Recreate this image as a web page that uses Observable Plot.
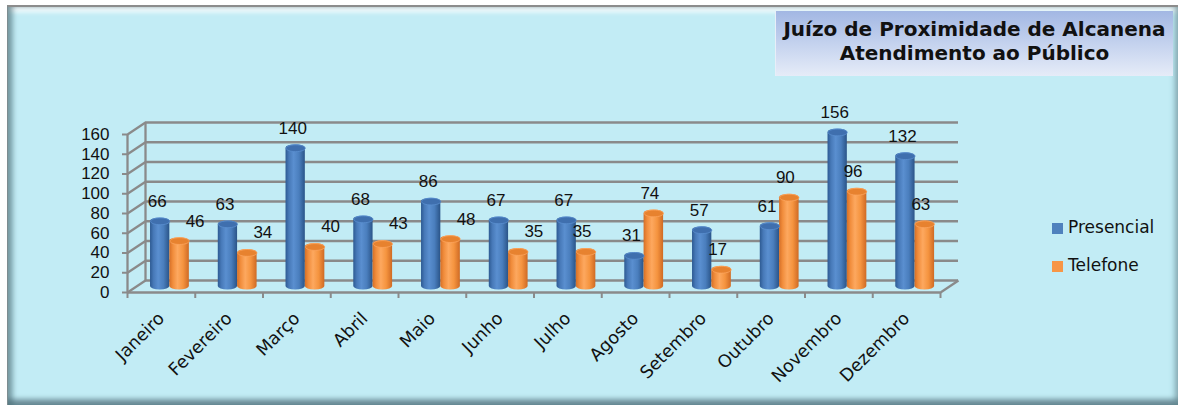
<!DOCTYPE html>
<html>
<head>
<meta charset="utf-8">
<script src="https://cdn.jsdelivr.net/npm/d3@7"></script>
<script src="https://cdn.jsdelivr.net/npm/@observablehq/plot@0.6"></script>
<style>
  html, body { margin: 0; padding: 0; background: #ffffff; }
  #wrap { position: relative; width: 1178px; height: 406px; overflow: hidden; }
  #frame {
    position: absolute; left: 7px; top: 5px; width: 1171px; height: 400px;
    box-sizing: border-box; background: #c2ecf5;
    border-top: 2px solid #8c8c8c; border-left: 1px solid #7d8c90;
    box-shadow: inset 6px 0 5px -1px rgba(70,105,115,.55),
                inset -5px 0 5px -1px rgba(90,130,140,.45),
                inset 0 -7px 5px -1px rgba(70,100,110,.65),
                inset 0 6px 5px -1px rgba(255,255,255,.9);
  }
  #chart { position: absolute; left: 0; top: 0; }
  #title {
    position: absolute; left: 775px; top: 11px; width: 398px; height: 65px;
    box-sizing: border-box; padding-top: 6px;
    background: linear-gradient(to bottom, #a2b7e3 0%, #c4d2ee 50%, #e6ecf8 100%);
    border-left: 1px solid #e8eef8;
    font-family: "DejaVu Sans", sans-serif; font-weight: bold; font-size: 20px;
    line-height: 24px; text-align: center; color: #111;
  }
  .leg { position: absolute; font-family: "DejaVu Sans", sans-serif; font-size: 17px; color: #111; line-height: 17px; }
  .sw { position: absolute; width: 11px; height: 11px; }
</style>
</head>
<body>
<div id="wrap">
  <div id="frame"></div>
  <div id="chart"></div>
  <div id="title"></div>
  <div id="legend"></div>
</div>
<script>
// ---- data ----
const months = ["Janeiro", "Fevereiro", "Março", "Abril", "Maio", "Junho", "Julho", "Agosto", "Setembro", "Outubro", "Novembro", "Dezembro"];
const presencial = [66, 63, 140, 68, 86, 67, 67, 31, 57, 61, 156, 132];
const telefone = [46, 34, 40, 43, 48, 35, 35, 74, 17, 90, 96, 63];
const seriesNames = ["Presencial", "Telefone"];
const seriesColors = ["#4f81bd", "#f79646"];
const yTicks = [0, 20, 40, 60, 80, 100, 120, 140, 160];
const titleLines = ["Juízo de Proximidade de Alcanena", "Atendimento ao Público"];

// ---- layout ----
const W = 1178, H = 406;
const mL = 127, mR = 238, mT = 134, mB = 114;
const kx = (W - mL - mR) / 12;         // px per month
const ky = (H - mT - mB) / 160;        // px per unit
const depthX = 18 / kx, depthY = 12 / ky;
const grid = "#8a8a8a";
const slot = { Presencial: [0.207, 0.492], Telefone: [0.492, 0.78] };

const rowsP = months.map((m, i) => ({ month: m, i, series: seriesNames[0], value: presencial[i] }));
const rowsT = months.map((m, i) => ({ month: m, i, series: seriesNames[1], value: telefone[i] }));
const x1 = d => d.i + slot[d.series][0];
const x2 = d => d.i + slot[d.series][1];
const xc = d => d.i + (slot[d.series][0] + slot[d.series][1]) / 2;

const ellipse = {
  draw(ctx) {
    const rx = 9.6, ry = 3.4, k = 0.5523;
    ctx.moveTo(-rx, 0);
    ctx.bezierCurveTo(-rx, -ry * k, -rx * k, -ry, 0, -ry);
    ctx.bezierCurveTo(rx * k, -ry, rx, -ry * k, rx, 0);
    ctx.bezierCurveTo(rx, ry * k, rx * k, ry, 0, ry);
    ctx.bezierCurveTo(-rx * k, ry, -rx, ry * k, -rx, 0);
    ctx.closePath();
  }
};

const numFont = "'Liberation Sans', Arial, sans-serif";
const wordFont = "'DejaVu Sans', sans-serif";

const barOpts = { x1, x2, y1: 0, y2: "value", rx: 9.6, ry: 3.4, insetTop: -3.4, insetBottom: -3.4, dx: 9, dy: -6 };

const plot = Plot.plot({
  width: W, height: H,
  marginLeft: mL, marginRight: mR, marginTop: mT, marginBottom: mB,
  x: { domain: [0, 12], axis: null },
  y: { domain: [0, 160], axis: null },
  style: { background: "transparent", overflow: "visible" },
  marks: [
    // back wall gridlines
    Plot.ruleY(yTicks, { y: d => d, x1: 0, x2: 12, dx: 18, dy: -12, stroke: grid, strokeWidth: 2.3 }),
    // left wall diagonals
    Plot.link(yTicks, { x1: 0, y1: d => d, x2: depthX, y2: d => d + depthY, stroke: grid, strokeWidth: 2.3 }),
    Plot.ruleX([0], { y1: 0, y2: 160, dx: 18, dy: -12, stroke: grid, strokeWidth: 2.3 }),
    // floor
    Plot.link([0], { x1: 12, y1: 0, x2: 12 + depthX, y2: depthY, stroke: grid, strokeWidth: 2.3 }),
    Plot.ruleY([0], { x1: 0, x2: 12, stroke: grid, strokeWidth: 2.3 }),
    Plot.ruleX([0], { y1: 0, y2: 160, stroke: grid, strokeWidth: 2.3 }),
    Plot.axisY({ ticks: yTicks, label: null, tickSize: 5, tickPadding: 13, stroke: grid, strokeWidth: 2, fill: "#111", fontSize: 17, fontFamily: numFont }),
    Plot.axisX({ ticks: d3.range(13), label: null, tickSize: 6, tickFormat: () => "", stroke: grid, strokeWidth: 2 }),
    // cylinders
    Plot.rectY(rowsP, { ...barOpts, fill: "url(#gradP)" }),
    Plot.rectY(rowsT, { ...barOpts, fill: "url(#gradT)" }),
    Plot.dot(rowsP, { x: xc, y: "value", symbol: ellipse, r: 5, fill: "#3f6fae", stroke: "#5b8fcf", strokeWidth: 0.8, dx: 9, dy: -6 }),
    Plot.dot(rowsT, { x: xc, y: "value", symbol: ellipse, r: 5, fill: "#e7822f", stroke: "#fba45e", strokeWidth: 0.8, dx: 9, dy: -6 }),
    // value labels
    Plot.text(rowsP, { x: xc, y: "value", text: d => String(d.value), dx: 6, dy: -26, fontSize: 17, fontFamily: numFont, fill: "#111" }),
    Plot.text(rowsT, { filter: d => d.i < 6, x: xc, y: "value", text: d => String(d.value), dx: 24.5, dy: -26, fontSize: 17, fontFamily: numFont, fill: "#111" }),
    Plot.text(rowsT, { filter: d => d.i >= 6, x: xc, y: "value", text: d => String(d.value), dx: 5, dy: -26, fontSize: 17, fontFamily: numFont, fill: "#111" }),
    // month labels
    Plot.text(months, { x: (d, i) => i + 0.5, y: 0, text: d => d, rotate: -45, textAnchor: "end", lineAnchor: "bottom", dx: 4, dy: 27, fontSize: 17.5, fontFamily: wordFont, fill: "#111" })
  ]
});

// gradients for the cylinders
const svg = d3.select(plot);
const defs = svg.insert("defs", ":first-child");
function grad(id, stops) {
  const g = defs.append("linearGradient").attr("id", id).attr("x1", "0%").attr("x2", "100%").attr("y1", "0%").attr("y2", "0%");
  stops.forEach(([o, c]) => g.append("stop").attr("offset", o).attr("stop-color", c));
}
grad("gradP", [["0%", "#2d5a92"], ["18%", "#4779b8"], ["42%", "#5a8fd0"], ["70%", "#4a7ebd"], ["100%", "#2a5488"]]);
grad("gradT", [["0%", "#d56f27"], ["18%", "#f18d3c"], ["42%", "#fda85f"], ["70%", "#f5943f"], ["100%", "#cf6a24"]]);

document.getElementById("chart").appendChild(plot);

// title
document.getElementById("title").innerHTML = titleLines.map(t => `<div>${t}</div>`).join("");

// legend
const legend = document.getElementById("legend");
seriesNames.forEach((name, k) => {
  const top = 223 + k * 38;
  const sw = document.createElement("div");
  sw.className = "sw";
  sw.style.left = "1052px"; sw.style.top = top + "px"; sw.style.background = seriesColors[k];
  legend.appendChild(sw);
  const t = document.createElement("div");
  t.className = "leg";
  t.style.left = "1068px"; t.style.top = (top - 4) + "px";
  t.textContent = name;
  legend.appendChild(t);
});
</script>
</body>
</html>
